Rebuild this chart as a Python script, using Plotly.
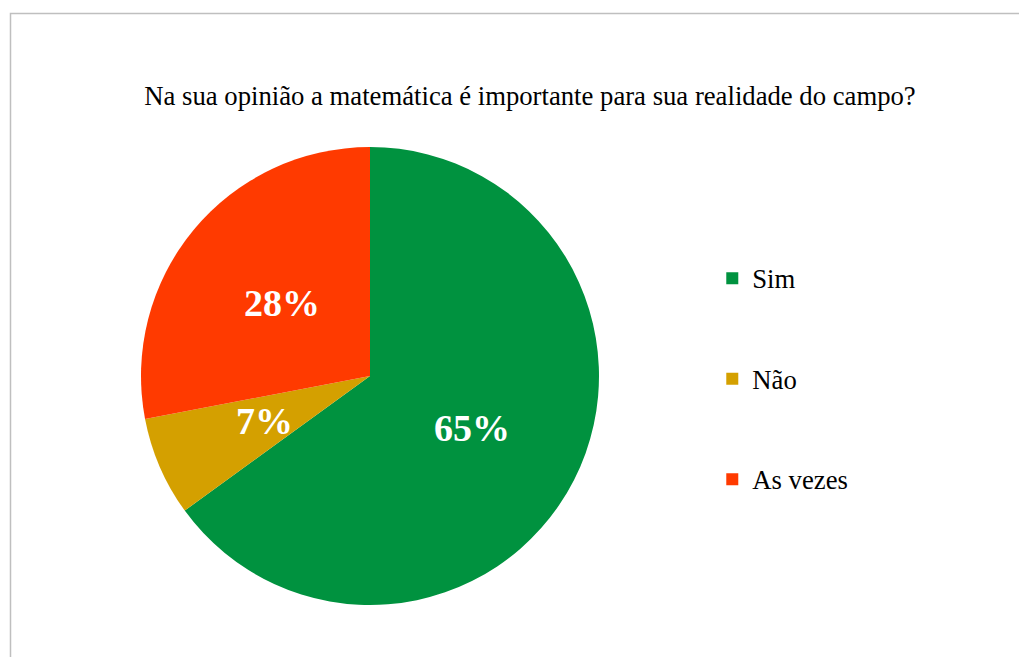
import math
import plotly.graph_objects as go

W, H = 1019, 657

categories = ["Sim", "Não", "As vezes"]
values = [65, 7, 28]
colors = ["#00923F", "#D4A000", "#FF3A00"]
title_text = "Na sua opinião a matemática é importante para sua realidade do campo?"

FONT = "'Liberation Serif', 'Times New Roman', Times, serif"

# legend labels padded with blank lines so entries are spaced like the reference
legend_labels = ["\u00a0<br><span style='font-size:26.7px'>%s</span><br>\u00a0" % c for c in categories]

# pie geometry (paper fractions, margins are zero)
dom_x = [141 / W, 599 / W]
dom_y = [1 - 605 / H, 1 - 147 / H]
cx_px = (141 + 599) / 2
cy_px = (147 + 605) / 2
r_px = (605 - 147) / 2

fig = go.Figure(go.Pie(
    labels=legend_labels,
    values=values,
    sort=False,
    direction="clockwise",
    rotation=0,
    marker=dict(colors=colors, line=dict(width=0)),
    textinfo="none",
    domain=dict(x=dom_x, y=dom_y),
    hoverinfo="skip",
))

# percentage labels placed at half radius along each slice's mid-angle
total = sum(values)
annotations = []
cum = 0
for v in values:
    frac = (cum + v / 2) / total
    cum += v
    th = 2 * math.pi * frac
    px = cx_px + 0.5 * r_px * math.sin(th)
    py = cy_px - 0.5 * r_px * math.cos(th)
    annotations.append(dict(
        x=px / W, y=1 - py / H, xref="paper", yref="paper",
        text="<b>%d%%</b>" % round(100 * v / total),
        showarrow=False, xanchor="center", yanchor="middle",
        font=dict(family=FONT, size=38, color="white"),
    ))

fig.update_layout(
    width=W, height=H,
    margin=dict(l=0, r=0, t=0, b=0),
    paper_bgcolor="white",
    plot_bgcolor="white",
    font=dict(family=FONT, color="black"),
    title=dict(
        text=title_text,
        x=530 / W, xanchor="center",
        y=1 - 96 / H, yanchor="middle",
        xref="paper", yref="paper",
        font=dict(family=FONT, size=26.7, color="black"),
    ),
    legend=dict(
        x=0.699, xanchor="left",
        y=1 - 379 / H, yanchor="middle",
        font=dict(family=FONT, size=25, color="black"),
        valign="middle",
        bgcolor="rgba(0,0,0,0)",
    ),
    annotations=annotations,
    shapes=[dict(
        type="rect", xref="paper", yref="paper",
        x0=10.5 / W, x1=1.02, y0=-0.02, y1=1 - 13.5 / H,
        line=dict(color="#BFBFBF", width=1.5),
        fillcolor="rgba(0,0,0,0)",
    )],
)

fig.write_html("out.html")
